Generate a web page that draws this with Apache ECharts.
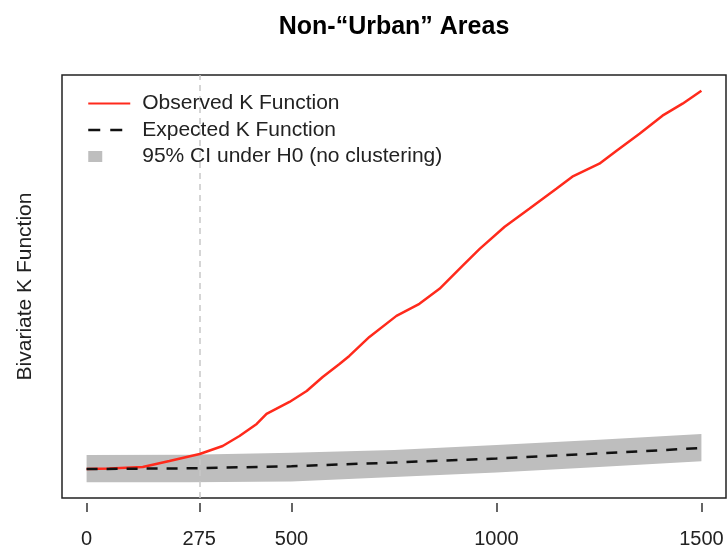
<!DOCTYPE html>
<html>
<head>
<meta charset="utf-8">
<script src="https://cdn.jsdelivr.net/npm/echarts@6/dist/echarts.min.js"></script>
<style>html,body{margin:0;padding:0;background:#fff}#c{width:728px;height:548px}</style>
</head>
<body>
<div id="c"></div>
<script>
// Observed K function (distance, value)
const obsX = [0, 56, 137, 202, 276, 332, 373, 415, 439, 495, 537, 576, 617, 641, 690, 756, 812, 861, 917, 959, 1020, 1080, 1146, 1185, 1251, 1293, 1349, 1405, 1454, 1500];
const obsY = [0, 0.5, 2, 8, 15, 23, 33, 45, 55, 67, 78, 92, 105, 113, 132, 153, 165, 180, 203, 220, 242, 260, 280, 292, 305, 318, 335, 353, 365, 378];
// Expected K function and 95% CI band
const expX = [0, 250, 500, 750, 1000, 1250, 1500];
const expY = [0, 0.7, 2.7, 6.5, 10.5, 15.5, 21];
const ciUpper = [14, 14.3, 16.3, 19, 24, 29.3, 35];
const ciLower = [-13.3, -13.2, -12.5, -8, -3.5, 2, 7.7];
const xTicks = [0, 275, 500, 1000, 1500];
const refLineX = 275;

const FONT = 'Liberation Sans';
const names = ['Observed K Function', 'Expected K Function', '95% CI under H0 (no clustering)'];
const noSymbol = {color: 'rgba(0,0,0,0)', borderWidth: 0};

const chart = echarts.init(document.getElementById('c'), null, {renderer: 'canvas'});
chart.setOption({
  animation: false,
  backgroundColor: '#fff',
  title: {
    text: 'Non-\u201cUrban\u201d Areas',
    left: 394, top: 15, padding: 0, textAlign: 'center',
    textStyle: {fontFamily: FONT, fontWeight: 'bold', fontSize: 25, color: '#000'}
  },
  grid: {left: 62, right: 2, top: 75, bottom: 50, outerBoundsMode: 'none', containLabel: false,
    show: true, borderColor: '#222', borderWidth: 1.5, backgroundColor: 'transparent'},
  legend: {
    orient: 'vertical', left: 82, top: 88,
    itemWidth: 42, itemHeight: 14, itemGap: 5.5,
    textStyle: {fontFamily: FONT, fontSize: 21, color: '#222', lineHeight: 21, padding: [0, 0, 0, 7]},
    data: [
      {name: names[0], itemStyle: noSymbol},
      {name: names[1], itemStyle: noSymbol, lineStyle: {type: [12, 10], width: 2.5, color: '#111'}},
      {name: names[2], icon: 'path://M0,0 L14,0 L14,11 L0,11 Z M42,11 L42,11', itemStyle: {color: '#bebebe'}}
    ]
  },
  xAxis: {
    type: 'value', min: -60, max: 1560, offset: 5,
    axisLine: {show: false, onZero: false},
    splitLine: {show: false},
    axisTick: {show: true, length: 9, customValues: xTicks, lineStyle: {color: '#333', width: 1.5}},
    axisLabel: {show: true, customValues: xTicks, margin: 26, fontFamily: FONT, fontSize: 20, color: '#222',
      formatter: function (v) { return String(v); }}
  },
  yAxis: {
    type: 'value', min: -28.95, max: 393.65,
    axisLine: {show: false}, axisTick: {show: false}, axisLabel: {show: false}, splitLine: {show: false},
    name: 'Bivariate K Function', nameLocation: 'middle', nameGap: 26,
    nameTextStyle: {fontFamily: FONT, fontSize: 21, color: '#222'}
  },
  series: [
    {
      name: names[2], type: 'custom', z: 1,
      data: [[expX[0], ciLower[0]]],
      itemStyle: {color: '#bebebe'},
      renderItem: function (params, api) {
        const pts = [];
        for (let i = 0; i < expX.length; i++) pts.push(api.coord([expX[i], ciUpper[i]]));
        for (let i = expX.length - 1; i >= 0; i--) pts.push(api.coord([expX[i], ciLower[i]]));
        return {type: 'polygon', shape: {points: pts}, style: {fill: '#bebebe'}};
      },
      markLine: {
        silent: true, symbol: 'none', label: {show: false}, z: 2,
        lineStyle: {color: '#c8c8c8', width: 1.5, type: [6, 5]},
        data: [{xAxis: refLineX}]
      }
    },
    {
      name: names[0], type: 'line', z: 3, symbol: 'none', showSymbol: false,
      data: obsX.map((x, i) => [x, obsY[i]]),
      lineStyle: {color: '#ff2a1c', width: 2.5},
      itemStyle: {color: '#ff2a1c'}
    },
    {
      name: names[1], type: 'line', z: 4, symbol: 'none', showSymbol: false,
      data: expX.map((x, i) => [x, expY[i]]),
      lineStyle: {color: '#111', width: 2.5, type: [11, 9]},
      itemStyle: {color: '#111'}
    }
  ]
});
</script>
</body>
</html>
